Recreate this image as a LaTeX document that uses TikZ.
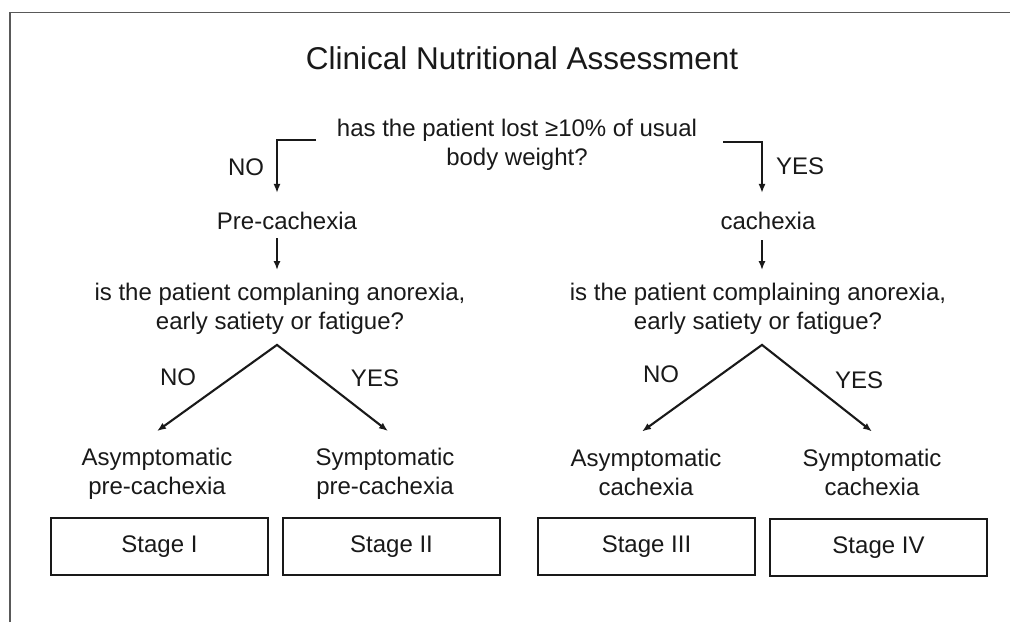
\documentclass[tikz,border=0pt]{standalone}
\usepackage{fontspec}
\setmainfont{Liberation Sans}
\usepackage{xcolor}
\usetikzlibrary{arrows.meta}

\begin{document}
\begin{tikzpicture}[x=1pt,y=-1pt,
  txt/.style={font=\fontsize{24}{29}\selectfont, text=black!90,
    align=center, inner sep=0pt},
  arr/.style={-{Latex[length=9pt,width=7pt]}, line width=2.1pt, black!90},
  fork/.style={{Latex[length=9pt,width=7pt]}-{Latex[length=9pt,width=7pt]},
    line width=2.1pt, black!90},
  stagebox/.style={draw=black!90, line width=2.2pt, minimum width=217pt,
    minimum height=57pt, inner sep=0pt, font=\fontsize{24}{29}\selectfont,
    text=black!90}]
  \useasboundingbox (0,0) rectangle (1011,622);
  % ── Frame ────────────────────────────────────────────────
  \draw[black!65, line width=1.4pt] (10,622) -- (10,12.5) -- (1010,12.5);

  % ── Title and first question ─────────────────────────────
  \node[txt, font=\fontsize{31.5}{36}\selectfont] (title) at (522,58)
    {Clinical Nutritional Assessment};
  \node[txt] (q1) at (517,145) {has the patient lost ≥10\% of usual\\body weight?};
  \coordinate (noStart) at (316,140);
  \coordinate (yesStart) at (723,142);

  % ── Left branch: pre-cachexia ────────────────────────────
  \node[txt] (no1) at (246,167) {NO};
  \node[txt] (pre) at (287,221) {Pre-cachexia};
  \draw[arr] (noStart) -| ([xshift=-10pt,yshift=19pt]pre.north);
  \node[txt] (q2L) at (280,309)
    {is the patient complaning anorexia,\\early satiety or fatigue?};
  \draw[arr] ([xshift=-10pt,yshift=-8pt]pre.south)
    -- ([xshift=-3pt,yshift=13pt]q2L.north);
  \coordinate (apexL) at ([xshift=-3pt,yshift=-10pt]q2L.south);
  \node[txt] (no2) at (178,377) {NO};
  \node[txt] (yes2) at (375,378) {YES};
  \node[txt] (asL) at (157,474) {Asymptomatic\\pre-cachexia};
  \node[txt] (syL) at (385,474) {Symptomatic\\pre-cachexia};
  \draw[fork] ([yshift=17pt]asL.north) -- (apexL)
    -- ([xshift=3pt,yshift=17pt]syL.north);

  % ── Right branch: cachexia ───────────────────────────────
  \node[txt] (yes1) at (800,166) {YES};
  \node[txt] (cach) at (768,221) {cachexia};
  \draw[arr] (yesStart) -| ([xshift=-6pt,yshift=19pt]cach.north);
  \node[txt] (q2R) at (758,309)
    {is the patient complaining anorexia,\\early satiety or fatigue?};
  \draw[arr] ([xshift=-6pt,yshift=-10pt]cach.south)
    -- ([xshift=4pt,yshift=13pt]q2R.north);
  \coordinate (apexR) at ([xshift=4pt,yshift=-10pt]q2R.south);
  \node[txt] (no3) at (661,374) {NO};
  \node[txt] (yes3) at (859,380) {YES};
  \node[txt] (asR) at (646,472) {Asymptomatic\\cachexia};
  \node[txt] (syR) at (872,472) {Symptomatic\\cachexia};
  \draw[fork] ([xshift=-4pt,yshift=17pt]asR.north) -- (apexR)
    -- ([yshift=17pt]syR.north);

  % ── Stages ───────────────────────────────────────────────
  \node[stagebox] (s1) at (159.5,546.5) {Stage I};
  \node[stagebox] (s2) at (391.5,546.5) {Stage II};
  \node[stagebox] (s3) at (646.5,546.5) {Stage III};
  \node[stagebox] (s4) at (878.5,547.5) {Stage IV};
\end{tikzpicture}
\end{document}
